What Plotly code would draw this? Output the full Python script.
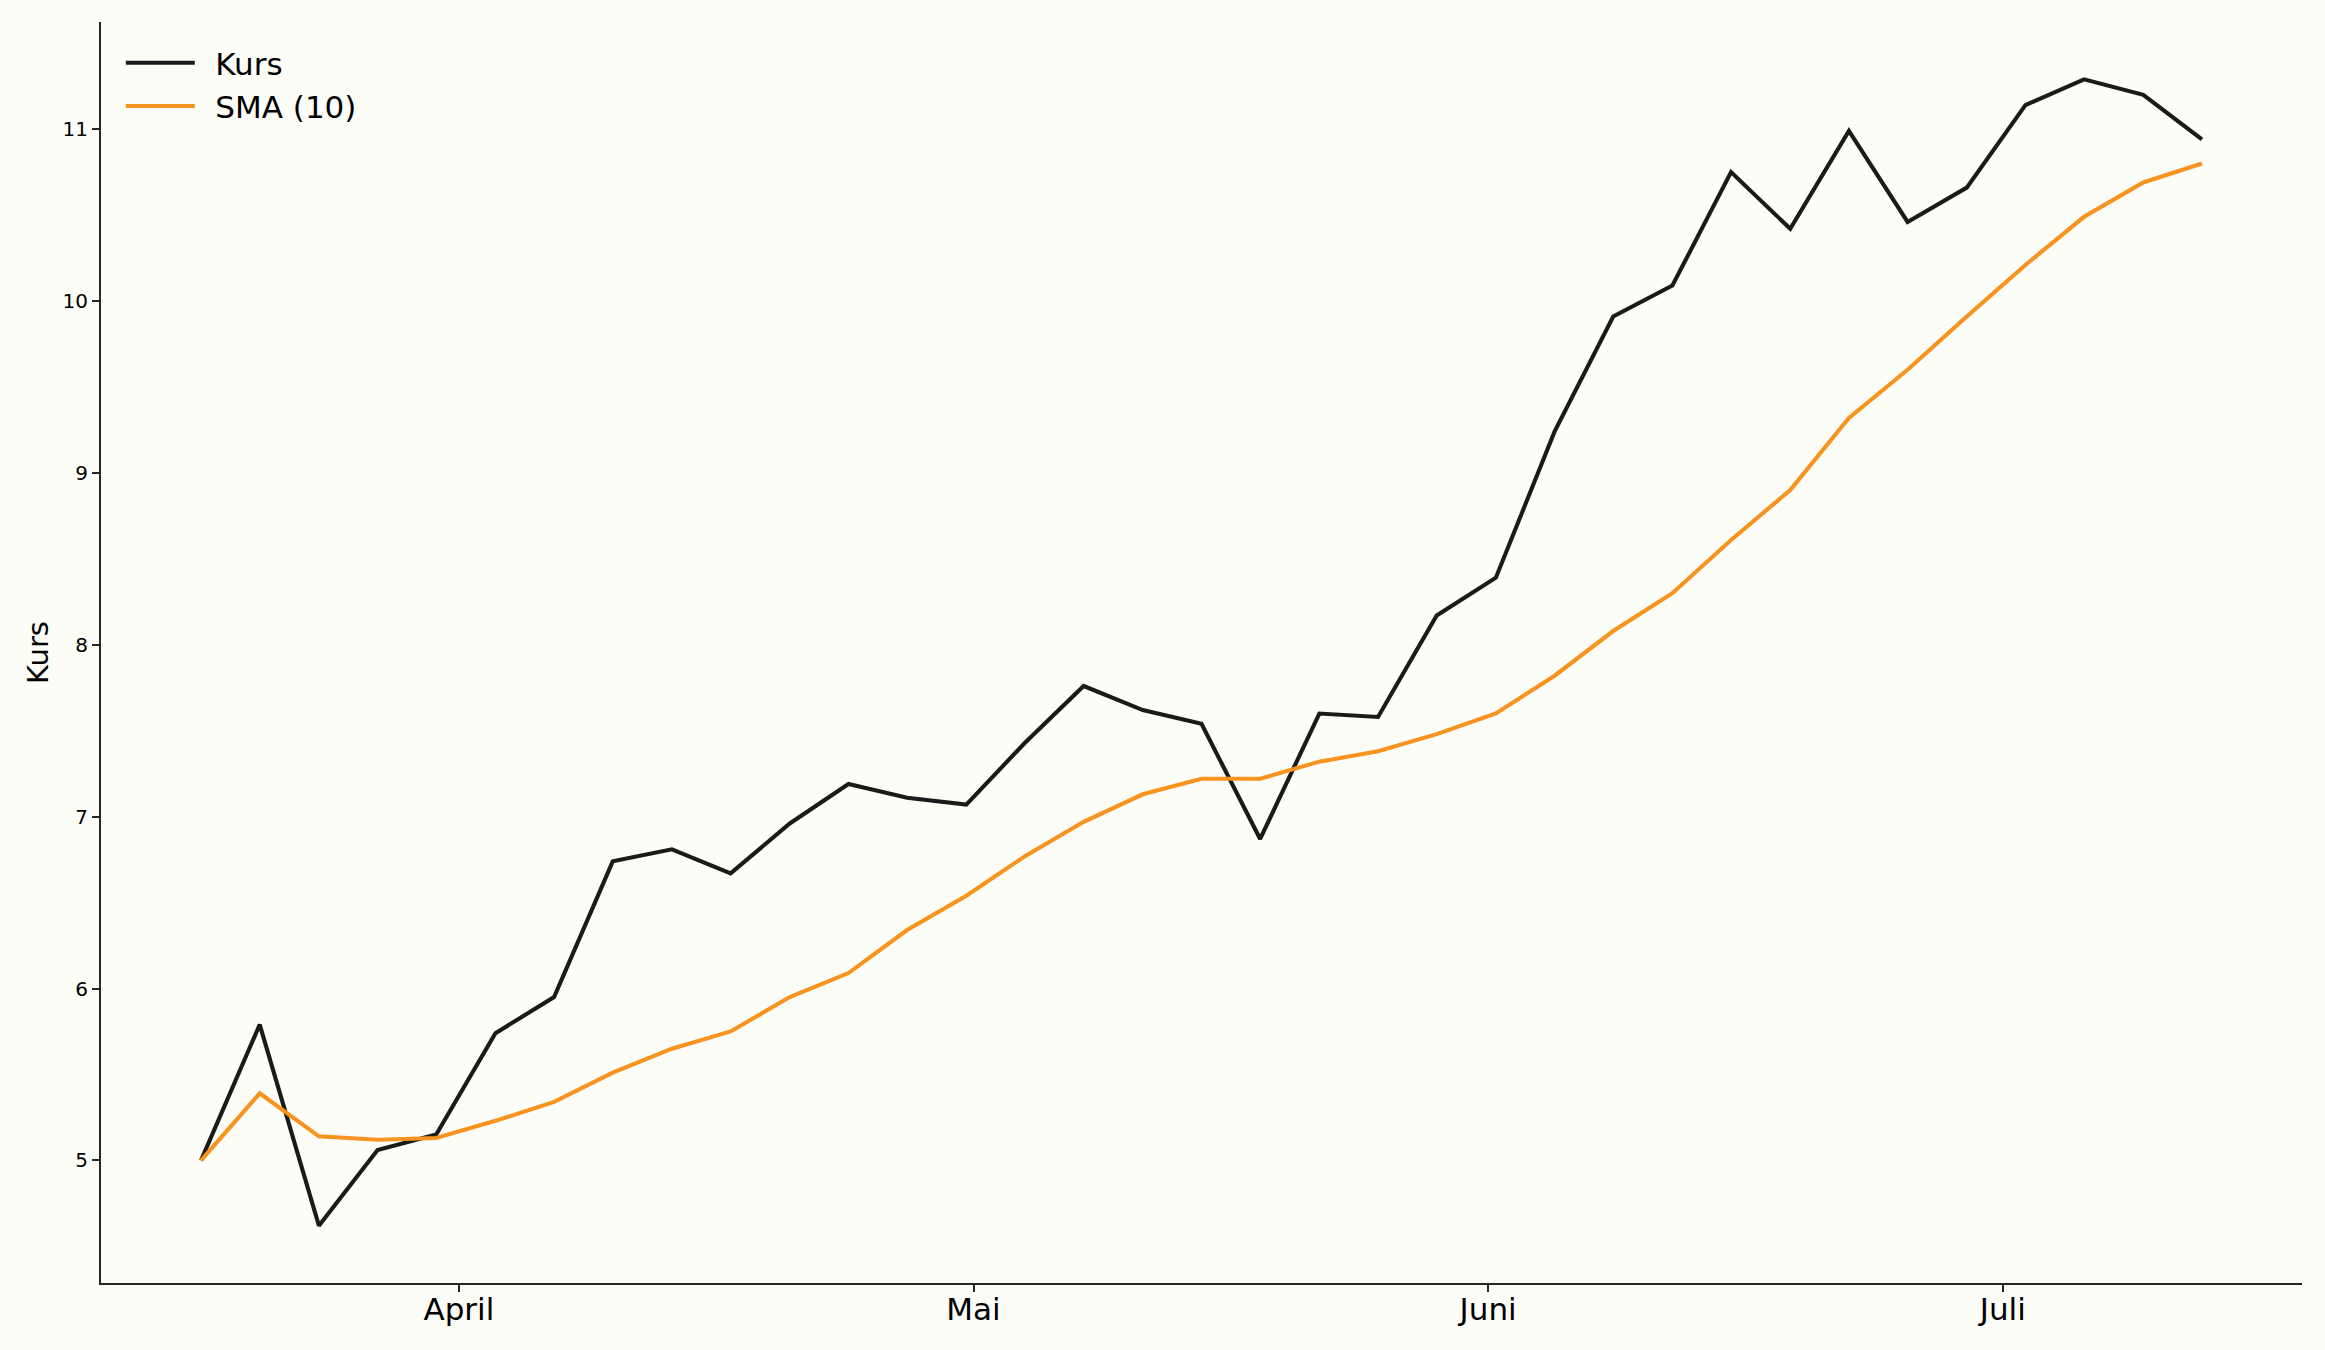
import plotly.graph_objects as go

# Data (x = month position, 4.0 = start of April)
months_pos = [
    3.499, 3.613, 3.728, 3.842, 3.956, 4.071, 4.185, 4.299, 4.414, 4.528,
    4.643, 4.757, 4.871, 4.986, 5.100, 5.214, 5.329, 5.443, 5.557, 5.672,
    5.786, 5.900, 6.015, 6.129, 6.243, 6.358, 6.472, 6.587, 6.701, 6.815,
    6.930, 7.044, 7.158, 7.273, 7.387,
]

kurs = [
    5.00, 5.79, 4.62, 5.06, 5.15, 5.74, 5.95, 6.74, 6.81, 6.67,
    6.96, 7.19, 7.11, 7.07, 7.43, 7.76, 7.62, 7.54, 6.87, 7.60,
    7.58, 8.17, 8.39, 9.24, 9.91, 10.09, 10.75, 10.42, 10.99, 10.46,
    10.66, 11.14, 11.29, 11.20, 10.94,
]

sma10 = [
    5.00, 5.39, 5.14, 5.12, 5.13, 5.23, 5.34, 5.51, 5.65, 5.75,
    5.95, 6.09, 6.34, 6.54, 6.77, 6.97, 7.13, 7.22, 7.22, 7.32,
    7.38, 7.48, 7.60, 7.82, 8.08, 8.30, 8.61, 8.90, 9.32, 9.60,
    9.91, 10.21, 10.49, 10.69, 10.80,
]

month_ticks = [4, 5, 6, 7]
month_labels = ["April", "Mai", "Juni", "Juli"]
y_ticks = [5, 6, 7, 8, 9, 10, 11]

BG = "#fdfdf8"
FONT = "DejaVu Sans"
AX = "#262626"

# matplotlib-like 5% data margins
xmin, xmax = min(months_pos), max(months_pos)
ymin, ymax = min(kurs + sma10), max(kurs + sma10)
xpad, ypad = 0.05 * (xmax - xmin), 0.05 * (ymax - ymin)

fig = go.Figure()
fig.add_trace(go.Scatter(x=months_pos, y=kurs, mode="lines", name="\u2002Kurs",
                         line=dict(color="#1a1a1a", width=4.1)))
fig.add_trace(go.Scatter(x=months_pos, y=sma10, mode="lines", name="\u2002SMA (10)",
                         line=dict(color="#f7931e", width=4.1)))

fig.update_layout(
    width=2325, height=1350,
    margin=dict(l=101, r=23, t=22, b=67, pad=0),
    paper_bgcolor=BG, plot_bgcolor=BG,
    font=dict(family=FONT, color="#000000"),
    showlegend=True,
    legend=dict(x=0.009, y=0.9888, xanchor="left", yanchor="top",
                bgcolor="rgba(0,0,0,0)", font=dict(size=31, family=FONT),
                itemwidth=69, tracegroupgap=0),
    xaxis=dict(
        range=[xmin - xpad, xmax + xpad],
        tickvals=month_ticks, ticktext=month_labels,
        showgrid=False, zeroline=False,
        showline=True, linecolor=AX, linewidth=2,
        ticks="outside", ticklen=7, tickwidth=1.6, tickcolor=AX,
        tickfont=dict(size=31, family=FONT, color="#000000"),
        ticklabelstandoff=-9,
        mirror=False,
    ),
    yaxis=dict(
        range=[ymin - ypad, ymax + ypad],
        tickvals=y_ticks, ticktext=[str(v) for v in y_ticks],
        showgrid=False, zeroline=False,
        showline=True, linecolor=AX, linewidth=2,
        ticks="outside", ticklen=7, tickwidth=1.6, tickcolor=AX,
        tickfont=dict(size=20, family=FONT, color="#000000"),
        title=dict(text="Kurs", font=dict(size=29, family=FONT, color="#000000"), standoff=5),
        mirror=False,
    ),
)

fig.write_html("out.html", config={"displayModeBar": False},
               post_script="document.body.style.margin='0';document.body.style.background='#fdfdf8';")
